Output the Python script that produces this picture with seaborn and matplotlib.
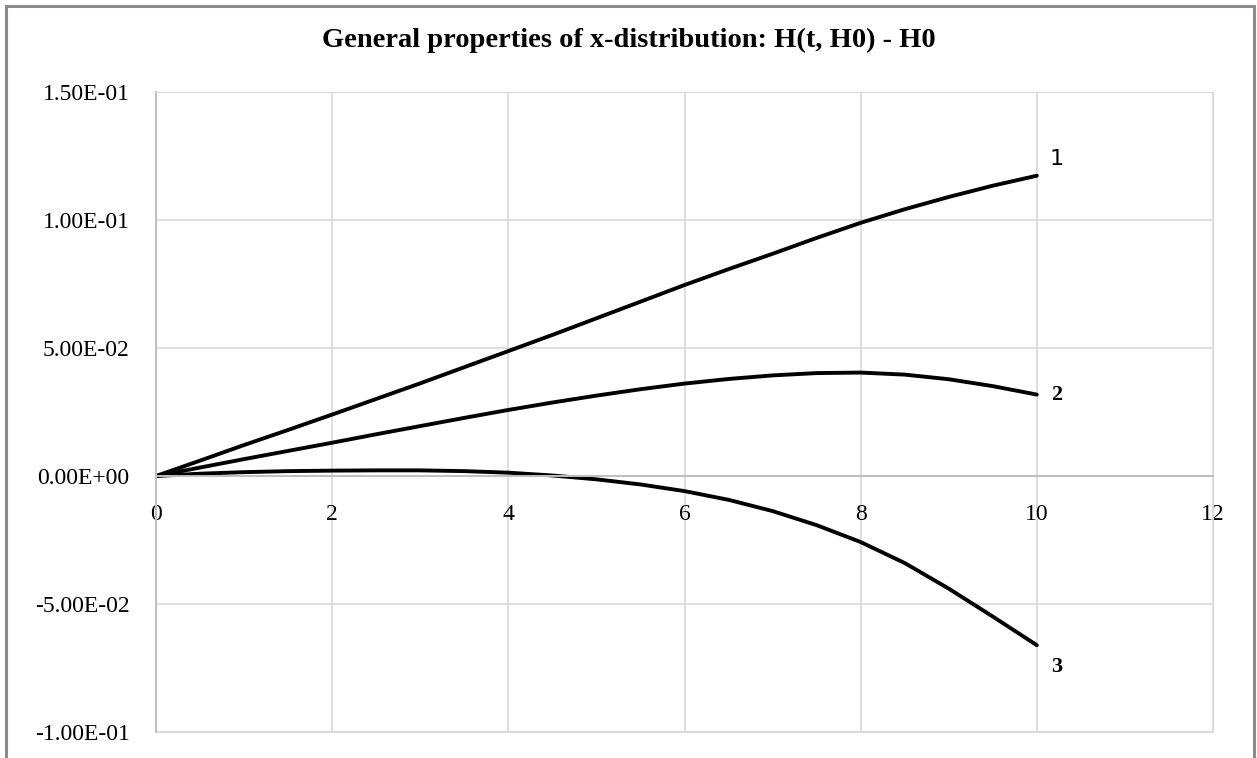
"""
General properties of x-distribution: H(t, H0) - H0
"""
import numpy as np
import pandas as pd
import seaborn as sns
import matplotlib.pyplot as plt
from matplotlib.patches import Rectangle

# time grid and the three curves
t = [0.0, 0.5, 1.0, 1.5, 2.0, 2.5, 3.0, 3.5, 4.0, 4.5, 5.0,
     5.5, 6.0, 6.5, 7.0, 7.5, 8.0, 8.5, 9.0, 9.5, 10.0]

curve_1 = [0.0, 0.0060, 0.0121, 0.0180, 0.0240, 0.0301, 0.0362, 0.0425, 0.0488, 0.0551, 0.0616,
           0.0681, 0.0746, 0.0808, 0.0868, 0.0930, 0.0989, 0.1042, 0.1090, 0.1134, 0.1173]
curve_2 = [0.0, 0.0033, 0.0066, 0.0098, 0.0130, 0.0163, 0.0195, 0.0227, 0.0258, 0.0287, 0.0314,
           0.0339, 0.0361, 0.0379, 0.0393, 0.0402, 0.0404, 0.0396, 0.0378, 0.0351, 0.0318]
curve_3 = [0.0, 0.0009, 0.0015, 0.0019, 0.0021, 0.0022, 0.0022, 0.0019, 0.0013, 0.0002, -0.0013,
           -0.0033, -0.0059, -0.0093, -0.0137, -0.0192, -0.0258, -0.0340, -0.0440, -0.0549, -0.0661]

series_names = ['1', '2', '3']
x_ticks = [0, 2, 4, 6, 8, 10, 12]
y_ticks = [-0.10, -0.05, 0.0, 0.05, 0.10, 0.15]
y_tick_labels = ['-1.00E-01', '-5.00E-02', '0.00E+00', '5.00E-02', '1.00E-01', '1.50E-01']
title = 'General properties of x-distribution: H(t, H0) - H0'

data = pd.DataFrame({
    't': t * 3,
    'value': curve_1 + curve_2 + curve_3,
    'series': [s for s in series_names for _ in t],
})

sns.set_style('white')
plt.rcParams['font.family'] = ['Liberation Serif', 'DejaVu Serif']

fig = plt.figure(figsize=(12.57, 7.58), dpi=100)
ax = fig.add_axes([156 / 1257, 1 - 732 / 758, (1213 - 156) / 1257, (732 - 92) / 758])

sns.lineplot(data=data, x='t', y='value', hue='series', sort=False,
    palette=['black'] * 3, linewidth=2.8, legend=False, ax=ax,
    solid_joinstyle='round', solid_capstyle='round')

ax.set_xlim(0, 12)
ax.set_ylim(-0.1, 0.15)
ax.set_xticks(x_ticks)
ax.set_xticklabels([str(v) for v in x_ticks])
ax.set_yticks(y_ticks)
ax.set_yticklabels(y_tick_labels)
ax.set_xlabel('')
ax.set_ylabel('')

ax.grid(True, color='#d9d9d9', linewidth=1.2)
ax.set_axisbelow(True)

# excel style: horizontal axis crosses at zero
ax.spines['bottom'].set_position(('data', 0))
ax.spines['bottom'].set_color('#bfbfbf')
ax.spines['bottom'].set_linewidth(1.4)
ax.spines['left'].set_color('#bfbfbf')
ax.spines['left'].set_linewidth(1.4)
ax.spines['top'].set_color('#d9d9d9')
ax.spines['right'].set_color('#d9d9d9')
ax.axhline(-0.1, color='#d9d9d9', linewidth=1.6, clip_on=False, zorder=0)

ax.tick_params(axis='x', length=0, pad=20, labelsize=17, labelcolor='black')
ax.tick_params(axis='y', length=0, pad=19, labelsize=17, labelcolor='black')

# series labels at line ends
label_offsets = {'1': (14, 12), '2': (14, 0), '3': (14, -16)}
label_fonts = {'1': (['DejaVu Sans'], 'normal'),
               '2': (['Liberation Serif'], 'bold'),
               '3': (['Liberation Serif'], 'bold')}
ends = {'1': curve_1[-1], '2': curve_2[-1], '3': curve_3[-1]}
for name in series_names:
    fam, wt = label_fonts[name]
    ax.annotate(name, xy=(t[-1], ends[name]), xytext=label_offsets[name],
        textcoords='offset points', ha='center', va='center',
        fontsize=16, family=fam, fontweight=wt, color='black')

fig.text(0.5, 1 - 40 / 758, title, ha='center', va='center',
    fontsize=20.5, fontweight='bold', color='black')

# chart frame
frame = Rectangle((6 / 1257, -0.05), (1254 - 6) / 1257, 1.05 - 6 / 758,
    transform=fig.transFigure, fill=False, edgecolor='#8c8c8c', linewidth=2.2)
fig.patches.append(frame)

fig.savefig('out.png', dpi=100)
